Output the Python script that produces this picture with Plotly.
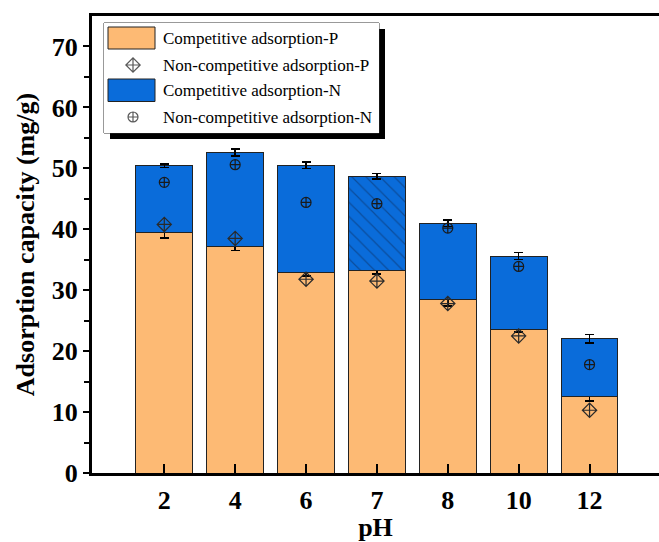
import plotly.graph_objects as go

# ---------------- data ----------------
ph_labels = ["2", "4", "6", "7", "8", "10", "12"]
comp_p = [39.4, 37.1, 32.9, 33.2, 28.4, 23.6, 12.6]          # competitive adsorption P
comp_n = [11.0, 15.5, 17.6, 15.5, 12.6, 12.0, 9.4]           # competitive adsorption N (stacked on P)
err_p = [0.8, 0.55, 0.6, 0.5, 1.0, 0.5, 0.75]
err_n = [0.3, 0.55, 0.5, 0.45, 0.55, 0.55, 0.7]
noncomp_p = [40.8, 38.5, 31.8, 31.5, 27.8, 22.5, 10.3]       # non-competitive adsorption P
noncomp_n = [47.7, 50.6, 44.4, 44.2, 40.2, 33.9, 17.8]       # non-competitive adsorption N
hatch = ["", "", "", "\\", "", "", ""]

legend_names = ["Competitive adsorption-P", "Non-competitive adsorption-P",
                "Competitive adsorption-N", "Non-competitive adsorption-N"]

# ---------------- style ----------------
ORANGE = "#FDBA74"
BLUE = "#0A6CDA"
FONT = "Liberation Serif"
xi = list(range(len(ph_labels)))

fig = go.Figure()
fig.add_trace(go.Bar(
    x=xi, y=comp_p, width=0.8, marker=dict(color=ORANGE, line=dict(color="#222", width=1)),
    error_y=dict(type="data", array=err_p, color="black", thickness=1.5, width=4.5),
    showlegend=False))
fig.add_trace(go.Bar(
    x=xi, y=comp_n, width=0.8,
    marker=dict(color=BLUE, line=dict(color="#222", width=1),
                pattern=dict(shape=hatch, fgcolor="#0B2D5E", bgcolor=BLUE, size=10, solidity=0.12)),
    error_y=dict(type="data", array=err_n, color="black", thickness=1.5, width=4.5),
    showlegend=False))
fig.add_trace(go.Scatter(
    x=xi, y=noncomp_p, mode="markers",
    marker=dict(symbol="diamond-cross-open", size=11, color="#2a2a2a", line=dict(width=1.2)),
    showlegend=False))
fig.add_trace(go.Scatter(
    x=xi, y=noncomp_n, mode="markers",
    marker=dict(symbol="circle-cross-open", size=10, color="#1a1a1a", line=dict(width=1.2)),
    showlegend=False))

# ---------------- manual legend (overlay axes in pixel-like units) ----------------
L, R, T, B = 104, 379, 23, 133      # legend box in page pixels
PL, PR, PT, PB = 92, 659, 16, 473   # plot area in page pixels
W, H = PR - PL, PB - PT

# shadow + box
fig.add_shape(type="rect", xref="paper", yref="paper", layer="below",
              x0=(L + 6 - PL) / W, x1=(R + 6 - PL) / W,
              y0=(PB - (B + 6)) / H, y1=(PB - (T + 6)) / H,
              fillcolor="black", line=dict(width=0))
fig.add_shape(type="rect", xref="paper", yref="paper", layer="below",
              x0=(L - PL) / W, x1=(R - PL) / W, y0=(PB - B) / H, y1=(PB - T) / H,
              fillcolor="white", line=dict(color="#333", width=1))

fig.update_layout(
    xaxis2=dict(domain=[(L - PL) / W, (R - PL) / W], range=[L, R], anchor="y2",
                visible=False, fixedrange=True),
    yaxis2=dict(domain=[(PB - B) / H, (PB - T) / H], range=[B, T], anchor="x2",
                visible=False, fixedrange=True),
)
rows_y = [38, 65, 90, 117]
rect_rows = [(27, 49, ORANGE), (79, 101.5, BLUE)]
for y0, y1, c in rect_rows:
    fig.add_shape(type="rect", xref="x2", yref="y2", x0=108, x1=155, y0=y0, y1=y1,
                  fillcolor=c, line=dict(color="#222", width=1), layer="above")
fig.add_trace(go.Scatter(x=[133, 133], y=[rows_y[1], rows_y[3]], xaxis="x2", yaxis="y2",
                         mode="markers", showlegend=False, hoverinfo="skip",
                         marker=dict(symbol=["diamond-cross-open", "circle-cross-open"],
                                     size=[11, 10], color="#111", line=dict(width=1.2))))
for name, yy in zip(legend_names, rows_y):
    fig.add_annotation(x=161, y=yy, xref="x2", yref="y2", text=name, showarrow=False,
                       xanchor="left", yanchor="middle",
                       font=dict(family=FONT, size=17, color="black"))

fig.update_layout(
    width=659, height=542,
    margin=dict(l=PL, r=0, t=PT, b=542 - PB, autoexpand=False),
    barmode="stack", bargap=0.2,
    plot_bgcolor="white", paper_bgcolor="white",
    font=dict(family=FONT, color="black"),
    xaxis=dict(range=[-1.02, 6.98], tickvals=xi, ticktext=ph_labels,
               automargin=False,
               showgrid=False, zeroline=False,
               showline=True, linecolor="black", linewidth=3, mirror=True,
               ticks="inside", ticklen=9, tickwidth=2, tickcolor="black",
               tickfont=dict(family=FONT, size=26, color="black", weight="bold"),
               ticklabelstandoff=2,
               title=dict(text="pH", font=dict(family=FONT, size=26, color="black", weight="bold"),
                          standoff=0)),
    yaxis=dict(range=[0, 75], tickvals=[0, 10, 20, 30, 40, 50, 60, 70],
               automargin=False,
               showgrid=False, zeroline=False,
               showline=True, linecolor="black", linewidth=3, mirror=False,
               ticks="outside", ticklen=6, tickwidth=2, tickcolor="black",
               minor=dict(tickvals=[5, 15, 25, 35, 45, 55, 65], ticks="outside",
                          ticklen=5, tickwidth=2, tickcolor="black"),
               tickfont=dict(family=FONT, size=26, color="black", weight="bold"),
               title=dict(text="Adsorption capacity (mg/g)",
                          font=dict(family=FONT, size=26, color="black", weight="bold"),
                          standoff=10)),
)

fig.write_html("out.html", config={"displayModeBar": False},
               post_script="document.body.style.margin='0';")
